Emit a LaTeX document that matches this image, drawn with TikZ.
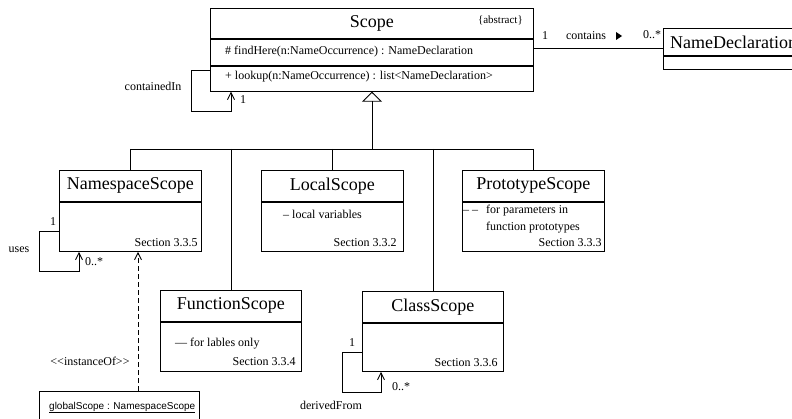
\documentclass[tikz,border=0pt]{standalone}
\usepackage{fontspec}
\setmainfont{Liberation Serif}
\setsansfont{Liberation Sans}
\usetikzlibrary{arrows.meta,calc}
\begin{document}
\begin{tikzpicture}[x=1pt,y=-1pt,
  box/.style={draw=black, line width=0.9pt, inner sep=0pt, anchor=north west},
  ttl/.style={font=\fontsize{18}{20}\selectfont},
  sm/.style={inner sep=0pt, anchor=base west, font=\fontsize{12}{14}\selectfont},
  smr/.style={sm, anchor=base east},
  smc/.style={sm, anchor=base},
  ln/.style={draw=black, line width=0.9pt},
  barb/.style={-{Straight Barb[length=7pt,width=7pt,line width=0.9pt]}},
  inh/.style={-{Triangle[open,length=10pt,width=20pt,line width=0.9pt]}},
]
\useasboundingbox (0,0) rectangle (792,419);
\clip (0,0) rectangle (792,419);

% ---------- Scope ----------
\node[box,ttl,minimum width=323pt,minimum height=30pt] (scope) at (210,8) {Scope};
\node[box,minimum width=323pt,minimum height=26pt] (scopef) at (scope.south west) {};
\node[box,minimum width=323pt,minimum height=25pt] (scopel) at (scopef.south west) {};
\node[smr,font=\fontsize{11}{13}\selectfont] (abs) at (523,24) {\{abstract\}};
\node[sm] (tfind) at (225,55) {\# findHere(n:NameOccurrence) : NameDeclaration};
\node[sm] (tlook) at (225,80) {+ lookup(n:NameOccurrence) : list<NameDeclaration>};

% ---------- NameDeclaration ----------
\node[box,minimum width=150pt,minimum height=27pt] (nd) at (663,28) {};
\node[box,minimum width=150pt,minimum height=13pt] (ndb) at (nd.south west) {};
\node[ttl,inner sep=0pt,anchor=west] (ndt) at ($(nd.west)+(7,0)$) {NameDeclaration};

% ---------- NamespaceScope ----------
\node[box,ttl,minimum width=142pt,minimum height=31pt] (ns) at (59,170) {NamespaceScope};
\node[box,minimum width=142pt,minimum height=49pt] (nsb) at (ns.south west) {};
\node[smr] (nssec) at ($(nsb.south east)+(-4,-5)$) {Section 3.3.5};

% ---------- LocalScope ----------
\node[box,ttl,minimum width=142pt,minimum height=31pt] (ls) at (261,170) {LocalScope};
\node[box,minimum width=142pt,minimum height=49pt] (lsb) at (ls.south west) {};
\node[sm] (lst) at (283,219) {– local variables};
\node[smr] (lssec) at ($(lsb.south east)+(-7,-5)$) {Section 3.3.2};

% ---------- PrototypeScope ----------
\node[box,ttl,minimum width=142pt,minimum height=31pt] (ps) at (462,170) {PrototypeScope};
\node[box,minimum width=142pt,minimum height=49pt] (psb) at (ps.south west) {};
\node[sm] (pst1) at (463,214) {\makebox[23pt][l]{\makebox[15pt][s]{–\hfil–}}for parameters in};
\node[sm] (pst2) at (486,231) {function prototypes};
\node[smr] (pssec) at ($(psb.south east)+(-3,-5)$) {Section 3.3.3};

% ---------- FunctionScope ----------
\node[box,ttl,minimum width=141pt,minimum height=31pt] (fs) at (160,290) {FunctionScope};
\node[box,minimum width=141pt,minimum height=49pt] (fsb) at (fs.south west) {};
\node[sm] (fst) at (175,347) {— for lables only};
\node[smr] (fssec) at ($(fsb.south east)+(-6,-6)$) {Section 3.3.4};

% ---------- ClassScope ----------
\node[box,ttl,minimum width=141pt,minimum height=31pt] (cs) at (362,291) {ClassScope};
\node[box,minimum width=141pt,minimum height=48pt] (csb) at (cs.south west) {};
\node[smr] (cssec) at ($(csb.south east)+(-6,-5)$) {Section 3.3.6};

% ---------- globalScope ----------
\node[box,minimum width=160pt,minimum height=40pt] (gs) at (39,391) {};
\node[inner sep=0pt,anchor=base west,font=\sffamily\fontsize{10}{12}\selectfont] (gst) at (49,409) {\underline{globalScope : NamespaceScope}};

% ---------- generalization ----------
\coordinate (hub) at (scopel.south |- 0,149);
\draw[ln,inh] (hub) -- (scopel.south);
\draw[ln] (ns.north |- hub) -- (ps.north |- hub);
\foreach \n in {ns,fs,ls,cs,ps} \draw[ln] (\n.north |- hub) -- (\n.north);

% ---------- association contains ----------
\coordinate (ndA) at ($(nd.north west)+(0,20)$);
\draw[ln] (ndA -| scopef.east) -- (ndA);
\node[smc] (c1) at (545,40) {1};
\node[smc] (cont) at (586,39.5) {contains};
\fill (616,32) -- (616,40) -- (622,36) -- cycle;
\node[smc] (cmany) at (652,39) {0..*};

% ---------- self loops ----------
\draw[ln,barb] ($(scopel.north west)+(0,5)$) -- ++(-19,0) |- ($(scopel.south west)+(21,20)$) -- ($(scopel.south west)+(21,0)$);
\node[smc] (cin) at (153,91) {containedIn};
\node[smc] (cin1) at (243,104) {1};

\draw[ln,barb] ($(nsb.south west)+(0,-20)$) -- ++(-20,0) |- ($(nsb.south west)+(20,20)$) -- ($(nsb.south west)+(20,0)$);
\node[smc] (uses1) at (53,226) {1};
\node[smc] (uses) at (19,253) {uses};
\node[smc] (usesm) at (94,266) {0..*};

\draw[ln,barb] ($(csb.south west)+(0,-19)$) -- ++(-20,0) |- ($(csb.south west)+(19,21)$) -- ($(csb.south west)+(19,0)$);
\node[smc] (df1) at (352,346) {1};
\node[smc] (dfm) at (401,390) {0..*};
\node[smc] (df) at (331,409) {derivedFrom};

% ---------- instanceOf ----------
\coordinate (nsd) at ($(nsb.south west)+(79,0)$);
\draw[ln,barb,dash pattern=on 5pt off 3pt] (gs.north -| nsd) -- (nsd);
\node[smc] (inst) at (90,366) {<\kern0pt<instanceOf>\kern0pt>};
\end{tikzpicture}
\end{document}
